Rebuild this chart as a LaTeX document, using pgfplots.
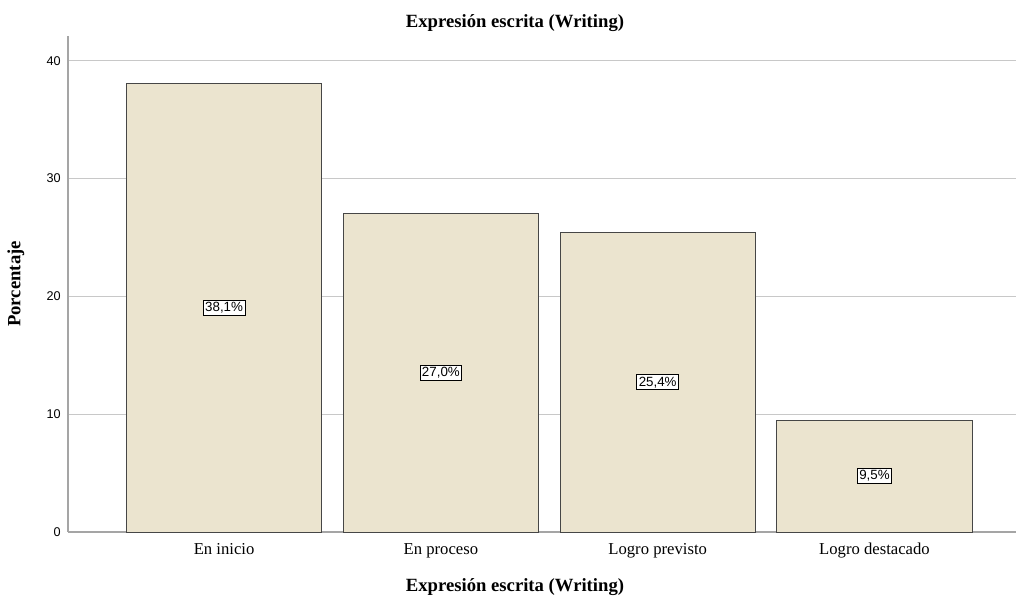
\documentclass[border=0pt]{standalone}
\usepackage{fontspec}
\setmainfont{Liberation Serif}
\setsansfont{Liberation Sans}
\usepackage{pgfplots}
\usepackage{pgfplotstable}
\pgfplotsset{compat=1.18}

\definecolor{barfill}{RGB}{235,228,207}
\definecolor{baredge}{RGB}{70,70,70}
\definecolor{gridgray}{RGB}{200,200,200}
\definecolor{axisgray}{RGB}{165,165,165}

% porcentajes por nivel
\pgfplotstableread{
x y
0 38.1
1 27.0
2 25.4
3 9.5
}\writing

\begin{document}
\begin{tikzpicture}
    \useasboundingbox (0,0) rectangle (762pt,448.5pt);

    \begin{axis}[
        at={(51pt,49.5pt)}, anchor=south west,
        scale only axis,
        width=711pt, height=372pt,
        xmin=-0.72, xmax=3.653,
        ymin=0, ymax=42.1,
        axis x line*=bottom, axis y line*=left,
        axis line style={draw=axisgray, line width=0.9pt, -},
        ytick={0,10,20,30,40},
        xtick={0,1,2,3},
        xticklabels={En inicio, En proceso, Logro previsto, Logro destacado},
        major tick length=0pt,
        ymajorgrids,
        grid style={gridgray, line width=0.8pt},
        /pgf/number format/assume math mode=true,
        yticklabel style={font=\sffamily\fontsize{9.5}{11}\selectfont, xshift=-2pt},
        xticklabel style={font=\fontsize{12.5}{14}\selectfont, text height=9pt, text depth=3pt, yshift=-4.5pt},
        clip=false,
    ]
        \addplot[ybar, bar width=0.9, fill=barfill, draw=baredge, line width=0.7pt]
            table[x=x, y=y] {\writing};

        \addplot[draw=none, mark=none, point meta=explicit,
            nodes near coords={\pgfmathprintnumber[fixed, fixed zerofill, precision=1, use comma]{\pgfplotspointmeta}\%},
            every node near coord/.append style={anchor=center, fill=white, draw=black,
                line width=0.7pt, inner sep=1.5pt, font=\sffamily\fontsize{10}{11}\selectfont}]
            table[x=x, y expr=\thisrow{y}/2, meta=y] {\writing};
    \end{axis}

    \node[font=\bfseries\fontsize{14}{16}\selectfont] at (386.25pt,431pt) {Expresión escrita (Writing)};
    \node[font=\bfseries\fontsize{14}{16}\selectfont] at (386.25pt,8.5pt) {Expresión escrita (Writing)};
    \node[font=\bfseries\fontsize{14}{16}\selectfont, rotate=90] at (12pt,235.5pt) {Porcentaje};
\end{tikzpicture}
\end{document}
